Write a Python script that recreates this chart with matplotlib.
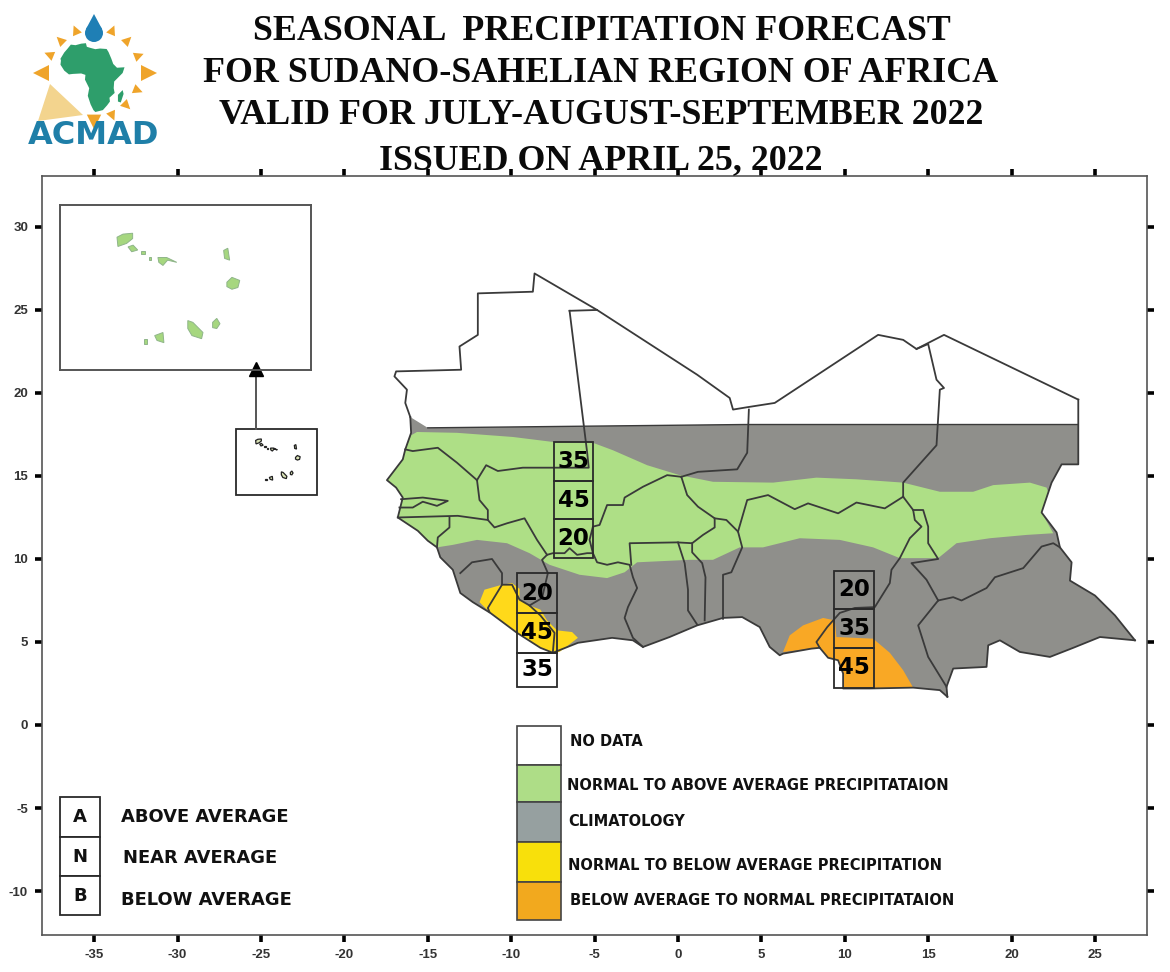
import numpy as np
import matplotlib
matplotlib.use("Agg")
import matplotlib.pyplot as plt
from matplotlib.patches import Rectangle, Polygon, Circle

# ---------- text ----------
TITLE_LINES = ["SEASONAL  PRECIPITATION FORECAST",
               "FOR SUDANO-SAHELIAN REGION OF AFRICA",
               "VALID FOR JULY-AUGUST-SEPTEMBER 2022",
               "ISSUED ON APRIL 25, 2022"]
LEGEND_LABELS = ["NO DATA", "NORMAL TO ABOVE AVERAGE PRECIPITATAION", "CLIMATOLOGY",
                 "NORMAL TO BELOW AVERAGE PRECIPITATION", "BELOW AVERAGE TO NORMAL PRECIPITATAION"]
LEGEND_COLORS = ["#FFFFFF", "#AEDD87", "#96A0A0", "#F8E00B", "#F2A91E"]
KEY_LETTERS = ["A", "N", "B"]
KEY_LABELS = ["ABOVE AVERAGE", "NEAR AVERAGE", "BELOW AVERAGE"]
X_TICKS = list(range(-35, 30, 5))
Y_TICKS = list(range(-10, 35, 5))

# ---------- forecast triplets: west lon, east lon, lat edges, probabilities ----------
TRIPLET_A_LON = (-7.43, -5.1); TRIPLET_A_LAT = (17.05, 14.7, 12.4, 10.05); TRIPLET_A_VALUES = ("35", "45", "20")
TRIPLET_B_LON = (-9.65, -7.25); TRIPLET_B_LAT = (9.15, 6.75, 4.35, 2.3); TRIPLET_B_VALUES = ("20", "45", "35")
TRIPLET_C_LON = (9.35, 11.75); TRIPLET_C_LAT = (9.3, 7.0, 4.65, 2.25); TRIPLET_C_VALUES = ("20", "35", "45")

# ---------- geography (lon, lat) ----------
COAST = [(-16.05, 18.55), (-16.0, 17.6), (-16.35, 16.6), (-16.5, 16.0), (-17.45, 14.75), (-16.9, 14.3), (-16.5, 13.7),
         (-16.8, 12.5), (-16.2, 12.1), (-15.6, 11.7), (-15.0, 11.1), (-14.45, 10.7), (-14.25, 10.1), (-13.5, 9.35),
         (-13.05, 7.95), (-12.3, 7.4), (-11.25, 6.75), (-9.65, 5.55), (-8.25, 4.65), (-7.5, 4.35), (-6.0, 4.95),
         (-3.95, 5.25), (-2.7, 5.1), (-2.1, 4.7), (-0.5, 5.3), (1.15, 6.0), (2.7, 6.45), (3.85, 6.5), (4.9, 5.9),
         (5.5, 4.7), (6.1, 4.2), (6.3, 4.3), (8.0, 4.6), (8.5, 4.65), (9.0, 4.05), (9.6, 3.9), (9.9, 3.1), (9.9, 2.2),
         (11.5, 2.2), (14.1, 2.25), (15.7, 2.1), (16.15, 1.7)]
CAR_SOUTH = [(16.1, 2.3), (16.5, 3.4), (18.5, 3.5), (18.6, 4.8), (19.3, 5.1), (20.5, 4.4), (22.3, 4.1), (23.7, 4.65),
             (25.3, 5.3), (27.4, 5.1)]
EAST_BORDER = [(27.4, 5.1), (26.2, 6.6), (25.0, 7.8), (23.5, 8.7), (23.6, 9.8), (22.9, 10.7), (22.7, 11.6), (21.8, 12.8),
               (22.2, 14.0), (22.4, 14.6), (23.0, 15.7), (24.0, 15.7), (24.0, 19.6)]
NORTH_BORDER = [(24.0, 19.6), (15.95, 23.5), (14.3, 22.65), (13.5, 23.2), (12.0, 23.5), (5.8, 19.4), (4.2, 19.15),
                (3.3, 19.0), (3.1, 19.7), (1.15, 21.1), (-4.85, 25.0), (-8.6, 27.2), (-8.7, 26.1), (-12.0, 26.0),
                (-12.0, 23.5), (-13.1, 22.8), (-13.0, 21.4), (-16.9, 21.3), (-17.0, 21.0), (-16.25, 20.2),
                (-16.35, 19.4), (-16.05, 18.55)]
GREY_TOP = [(24.0, 18.1), (4.0, 18.1), (-15.0, 17.9)]

GREEN_TOP = [(-16.0, 17.45), (-15.65, 17.65), (-13.25, 17.6), (-9.9, 17.35), (-7.5, 17.05), (-5.1, 17.0), (-3.9, 16.55),
             (-1.85, 15.65), (0.1, 15.05), (2.1, 14.65), (5.7, 14.6), (8.3, 14.9), (10.7, 14.8), (13.5, 14.6),
             (15.7, 14.05), (17.7, 14.05), (18.9, 14.45), (21.1, 14.6), (22.1, 14.3)]
GREEN_EAST = [(22.2, 14.0), (21.8, 12.8), (22.5, 11.55)]
GREEN_BOTTOM = [(20.9, 11.45), (18.7, 11.25), (16.7, 10.95), (15.6, 10.05), (13.3, 10.05), (11.7, 10.7), (9.7, 11.15),
                (7.3, 11.25), (5.1, 10.7), (3.7, 10.7), (2.1, 9.95), (0.7, 9.95), (-2.45, 9.8), (-3.2, 9.2),
                (-4.25, 8.85), (-5.9, 9.05), (-7.7, 9.65), (-8.9, 10.35), (-10.25, 10.95), (-12.05, 11.15),
                (-13.5, 10.85), (-14.45, 10.7)]
GREEN_WEST = [(-15.0, 11.1), (-15.6, 11.7), (-16.2, 12.1), (-16.8, 12.5), (-16.5, 13.7), (-16.9, 14.3), (-17.45, 14.75),
              (-16.5, 16.0), (-16.35, 16.6)]
YELLOW_AREA = [(-11.9, 7.4), (-11.6, 8.15), (-10.55, 8.45), (-9.95, 8.55), (-9.5, 8.2), (-9.5, 7.55), (-8.9, 7.2),
               (-8.25, 6.95), (-7.85, 6.3), (-7.25, 5.7), (-6.35, 5.6), (-6.0, 5.25), (-7.1, 4.4), (-7.5, 4.35),
               (-8.25, 4.65), (-9.65, 5.55), (-11.25, 6.75)]
ORANGE_AREA = [(6.3, 4.4), (6.7, 5.4), (7.5, 6.0), (8.7, 6.45), (9.4, 6.3), (9.5, 5.3), (11.7, 5.2), (12.7, 4.35),
               (13.5, 3.3), (14.1, 2.25), (9.9, 2.2), (9.9, 3.1), (9.6, 3.9), (9.0, 4.05), (8.5, 4.65), (8.0, 4.6)]

BORDERS = [
    [(-6.5, 24.95), (-4.85, 25.0)],
    [(-6.5, 24.95), (-5.45, 16.45), (-5.35, 15.5), (-9.3, 15.5), (-10.8, 15.3), (-11.5, 15.65), (-12.05, 14.75)],
    [(-12.05, 14.75), (-13.25, 15.8), (-14.4, 16.7), (-15.9, 16.5), (-16.35, 16.6)],
    [(-12.05, 14.75), (-11.9, 13.55), (-11.4, 12.95), (-11.4, 12.35), (-11.0, 11.9), (-10.25, 12.15), (-9.2, 12.45),
     (-8.45, 11.15), (-7.85, 10.25), (-7.5, 10.35), (-6.8, 10.35), (-6.5, 10.65), (-6.05, 10.25), (-5.45, 10.35), (-5.1, 10.35)],
    [(-11.4, 12.35), (-13.2, 12.6), (-16.8, 12.5)],
    [(-13.7, 12.5), (-13.7, 11.9), (-14.4, 11.3), (-14.45, 10.7)],
    [(-16.6, 13.6), (-15.3, 13.7), (-13.8, 13.5), (-14.45, 13.2), (-15.3, 13.45), (-15.9, 13.1), (-16.7, 13.1)],
    [(-5.1, 10.35), (-5.3, 11.15), (-5.1, 11.95), (-4.7, 12.05), (-4.25, 13.25), (-3.3, 13.25), (-3.2, 13.7), (-2.1, 14.35),
     (-0.65, 15.05), (0.2, 14.95)],
    [(0.2, 14.95), (1.2, 15.25), (3.55, 15.4), (4.15, 16.4), (4.25, 19.0)],
    [(0.2, 14.95), (0.55, 13.85), (1.2, 13.15), (2.2, 12.45), (2.2, 11.9), (1.5, 11.45), (0.85, 10.95), (-0.05, 11.0), (-2.9, 10.95),
     (-2.8, 9.65)],
    [(-5.1, 10.35), (-4.85, 9.8), (-4.25, 9.65), (-3.6, 9.8), (-2.9, 9.65), (-2.7, 8.9), (-2.45, 8.25), (-3.0, 7.1),
     (-3.2, 6.45), (-2.7, 5.25), (-2.1, 4.7)],
    [(0.0, 11.0), (0.4, 9.75), (0.6, 8.15), (0.6, 6.9), (1.15, 6.05)],
    [(0.85, 10.95), (0.85, 10.4), (1.45, 9.75), (1.65, 8.9), (1.6, 6.3)],
    [(2.2, 12.45), (2.9, 12.35), (3.6, 11.65), (3.85, 10.7), (3.2, 9.2), (2.7, 9.05), (2.7, 6.4)],
    [(3.6, 11.65), (4.15, 13.55), (5.4, 13.85), (7.0, 13.0), (7.8, 13.35), (9.6, 12.75), (10.7, 13.4), (12.4, 13.05), (13.5, 13.75)],
    [(13.5, 13.75), (13.5, 14.6), (15.5, 16.85), (15.7, 20.2), (15.95, 20.3), (15.5, 20.8), (15.0, 22.95), (14.3, 22.65)],
    [(13.5, 13.75), (14.1, 12.95), (14.2, 12.35), (14.6, 11.95), (13.9, 11.25), (13.3, 10.05), (12.8, 9.35), (12.7, 8.55),
     (11.8, 7.1), (10.6, 7.05), (9.7, 6.75), (8.95, 5.9), (8.3, 5.0), (8.5, 4.65)],
    [(14.1, 12.95), (14.7, 12.95), (15.0, 11.95), (15.0, 10.95), (15.6, 10.0), (14.0, 9.75), (14.9, 8.75), (15.6, 7.5)],
    [(15.6, 7.5), (16.5, 7.7), (17.0, 7.5), (18.5, 8.25), (19.0, 8.9), (20.7, 9.45), (21.8, 10.75), (22.5, 10.95), (22.9, 10.7)],
    [(15.6, 7.5), (14.4, 6.0), (15.0, 4.1), (16.1, 2.3), (16.15, 1.7)],
    [(-13.05, 9.15), (-12.35, 9.8), (-11.15, 10.0), (-10.55, 9.15), (-10.55, 8.45), (-11.4, 7.05), (-11.3, 6.8)],
    [(-10.55, 8.45), (-9.95, 8.45), (-9.5, 7.55), (-8.9, 7.2), (-8.25, 6.6), (-7.4, 5.55), (-7.5, 4.4)],
    [(-7.85, 10.25), (-8.15, 9.95), (-7.8, 9.15), (-8.15, 7.65), (-8.9, 7.2)],
]

ISLANDS = [
    [(-25.32, 17.14), (-25.19, 17.21), (-24.98, 17.23), (-24.98, 17.11), (-25.11, 17.0), (-25.3, 16.93)],
    [(-25.08, 16.92), (-24.97, 16.96), (-24.87, 16.85), (-25.0, 16.81)],
    [(-24.8, 16.82), (-24.72, 16.82), (-24.72, 16.76), (-24.8, 16.76)],
    [(-24.63, 16.69), (-24.57, 16.69), (-24.57, 16.63), (-24.63, 16.63)],
    [(-24.43, 16.68), (-24.24, 16.68), (-24.02, 16.57), (-24.22, 16.62), (-24.32, 16.5), (-24.41, 16.57)],
    [(-23.0, 16.84), (-22.91, 16.89), (-22.87, 16.62), (-22.98, 16.66)],
    [(-22.93, 16.12), (-22.82, 16.23), (-22.65, 16.16), (-22.69, 16.0), (-22.82, 15.96), (-22.93, 16.02)],
    [(-23.24, 15.21), (-23.15, 15.3), (-23.08, 15.18), (-23.15, 15.07), (-23.24, 15.09)],
    [(-23.78, 15.25), (-23.67, 15.21), (-23.45, 14.98), (-23.48, 14.84), (-23.69, 14.91), (-23.78, 15.07)],
    [(-24.5, 14.91), (-24.32, 14.98), (-24.3, 14.75), (-24.45, 14.8)],
    [(-24.74, 14.84), (-24.67, 14.84), (-24.67, 14.73), (-24.74, 14.73)],
]
AFRICA = [(-17, 14.7), (-16.5, 19), (-17, 21), (-13, 27.5), (-9.5, 31.5), (-6, 35.8), (-1, 35.2), (5, 36.8), (10, 37.3),
          (11, 33.5), (15, 32.3), (20, 31), (25, 31.7), (32, 31.2), (34, 28), (37, 21), (39, 15.5), (43, 11.5), (51, 12),
          (49, 6), (44, 1), (40, -3), (39.5, -10), (40.5, -15), (35, -20), (35.5, -24), (32.5, -28), (28, -33), (20, -35),
          (18, -33), (15, -27), (12, -18), (13.5, -10), (9, -1), (9.5, 4), (5, 5.5), (-4, 5), (-8, 4.5), (-13, 8.5)]
MADAGASCAR = [(49, -12), (50, -16), (47, -25), (44, -24), (44, -17)]

# ---------- figure ----------
W, H = 1170, 972
plt.rcParams['font.family'] = ['Liberation Sans', 'DejaVu Sans']
plt.rcParams['axes.unicode_minus'] = False
fig = plt.figure(figsize=(W / 100, H / 100), dpi=100, facecolor="white")


def box(l, t, r, b):
    return [l / W, 1 - b / H, (r - l) / W, (b - t) / H]


ax = fig.add_axes(box(42, 176, 1147, 935))
ax.set_xlim(-38.13, 28.12)
ax.set_ylim(-12.65, 33.07)
for s in ax.spines.values():
    s.set_color("#555555"); s.set_linewidth(1.2)
ax.set_xticks(X_TICKS); ax.set_yticks(Y_TICKS)
ax.tick_params(axis="both", which="major", direction="out", length=5, width=2.6, color="black",
               top=True, right=True, labelsize=9.5, labelcolor="#333333", pad=5)
for lab in ax.get_xticklabels() + ax.get_yticklabels():
    lab.set_fontweight("bold")

LINE = "#3A3A3A"
GREY = "#8F8F8B"; GREEN = "#AEDF86"; YELLOW = "#FFD91A"; ORANGE = "#F9A825"


def fill(points, color, z):
    a = np.array(points)
    ax.fill(a[:, 0], a[:, 1], color=color, lw=0, zorder=z)


def line(points, lw=1.3, z=5, color=LINE):
    a = np.array(points)
    ax.plot(a[:, 0], a[:, 1], color=color, lw=lw, zorder=z, solid_joinstyle="round")


fill(COAST + CAR_SOUTH + EAST_BORDER[1:-1] + GREY_TOP, GREY, 1)
fill(GREEN_TOP + GREEN_EAST + GREEN_BOTTOM + GREEN_WEST, GREEN, 2)
fill(YELLOW_AREA, YELLOW, 3)
fill(ORANGE_AREA, ORANGE, 3)

line(COAST); line(CAR_SOUTH); line(EAST_BORDER); line(NORTH_BORDER); line(GREY_TOP, lw=1.0)
for b in BORDERS:
    line(b)

for lons, lats, vals in [(TRIPLET_A_LON, TRIPLET_A_LAT, TRIPLET_A_VALUES),
                         (TRIPLET_B_LON, TRIPLET_B_LAT, TRIPLET_B_VALUES),
                         (TRIPLET_C_LON, TRIPLET_C_LAT, TRIPLET_C_VALUES)]:
    for i, v in enumerate(vals):
        ax.add_patch(Rectangle((lons[0], lats[i + 1]), lons[1] - lons[0], lats[i] - lats[i + 1],
                               fc="none", ec="#2A2A2A", lw=1.3, zorder=6))
        ax.text(sum(lons) / 2, (lats[i] + lats[i + 1]) / 2, v, ha="center", va="center", fontsize=16.5,
                fontweight="bold", family="DejaVu Sans", color="#000000", zorder=7)

# small Cape Verde locator, on the map's own scale
ax.add_patch(Rectangle((-26.5, 13.88), 4.85, 3.97, fc="white", ec="#2A2A2A", lw=1.3, zorder=4))
for isl in ISLANDS:
    a = np.array(isl)
    ax.fill(a[:, 0], a[:, 1], fc="#D9E2B5", ec="#222222", lw=0.9, zorder=5)
ax.plot([-25.3, -25.3], [17.85, 21.3], color="#555555", lw=1.4, zorder=8)
ax.plot([-25.3], [21.45], marker="^", ms=10, color="black", zorder=9, clip_on=False)

# enlarged Cape Verde inset
ins = fig.add_axes(box(60, 205, 311, 370), zorder=3)
ins.set_xlim(-26.56, -21.1); ins.set_ylim(14.13, 17.87)
ins.set_xticks([]); ins.set_yticks([])
ins.patch.set_alpha(0)
for s in ins.spines.values():
    s.set_color("#555555"); s.set_linewidth(1.4)
for isl in ISLANDS:
    a = np.array(isl)
    ins.fill(a[:, 0], a[:, 1], fc="#A6D77F", ec="#8FB58A", lw=0.7)

# legend
LEG_EDGES = [726, 765, 802, 842, 882, 920]
LEG_TEXT_X = [570, 567, 568, 568, 570]
LEG_TEXT_Y = [741, 785, 821, 865, 900]
for i, (lab, col) in enumerate(zip(LEGEND_LABELS, LEGEND_COLORS)):
    t, b = LEG_EDGES[i], LEG_EDGES[i + 1]
    fig.add_artist(Rectangle((517 / W, 1 - b / H), 44 / W, (b - t) / H, transform=fig.transFigure,
                             fc=col, ec="#444444", lw=1.2, zorder=4))
    fig.text(LEG_TEXT_X[i] / W, 1 - LEG_TEXT_Y[i] / H, lab, family="DejaVu Sans", fontweight="bold",
             fontsize=10.5, color="#111111", va="center", ha="left", zorder=5)

# A/N/B key
KEY_EDGES = [797, 837, 876, 915]
KEY_TEXT_X = [121, 123, 121]
KEY_TEXT_Y = [817, 858, 900]
for i in range(3):
    t, b = KEY_EDGES[i], KEY_EDGES[i + 1]
    fig.add_artist(Rectangle((60 / W, 1 - b / H), 40 / W, (b - t) / H, transform=fig.transFigure,
                             fc="white", ec="#2A2A2A", lw=1.3, zorder=4))
    fig.text(80 / W, 1 - (t + b) / 2 / H, KEY_LETTERS[i], family="DejaVu Sans", fontweight="bold", fontsize=13,
             ha="center", va="center", color="#111111", zorder=5)
    fig.text(KEY_TEXT_X[i] / W, 1 - KEY_TEXT_Y[i] / H, KEY_LABELS[i], family="DejaVu Sans", fontweight="bold",
             fontsize=12.9, ha="left", va="center", color="#111111", zorder=5)

# title
TITLE_Y = [31, 73, 116, 161]
TITLE_X = [602, 601, 601, 601]
for s, x, y in zip(TITLE_LINES, TITLE_X, TITLE_Y):
    fig.text(x / W, 1 - y / H, s, family="Liberation Serif", fontweight="bold", fontsize=25.8, ha="center",
             va="center", color="#0A0A0A", zorder=6)

# logo
logo = fig.add_axes(box(0, 0, 170, 150), zorder=2)
logo.set_xlim(0, 170); logo.set_ylim(150, 0); logo.axis("off")
RAY_X = [76, 112, 61, 127, 50, 138, 43, 147, 137, 126, 112, 94]
RAY_Y = [31, 31, 41, 41, 55, 56, 73, 73, 90, 105, 115, 120]
RAY_SIZE = [6, 6, 6, 6, 6, 6, 10, 10, 6, 6, 6, 9]
CX, CY = 94, 73
for x, y, r in zip(RAY_X, RAY_Y, RAY_SIZE):
    ang = np.arctan2(y - CY, x - CX)
    tip = (x + r * np.cos(ang), y + r * np.sin(ang))
    p1 = (x - 0.6 * r * np.cos(ang) - 0.8 * r * np.sin(ang), y - 0.6 * r * np.sin(ang) + 0.8 * r * np.cos(ang))
    p2 = (x - 0.6 * r * np.cos(ang) + 0.8 * r * np.sin(ang), y - 0.6 * r * np.sin(ang) - 0.8 * r * np.cos(ang))
    logo.add_patch(Polygon([tip, p1, p2], fc="#EFA42A", ec="none"))
logo.add_patch(Circle((94, 33), 9, fc="#1F7FB5", ec="none"))
logo.add_patch(Polygon([(94, 14), (86, 29), (102, 29)], fc="#1F7FB5", ec="none"))
logo.add_patch(Polygon([(50, 84), (38, 121), (83, 115)], fc="#F3D48E", ec="none"))
logo.text(94, 135.5, "ACMAD", family="DejaVu Sans", fontweight="bold", fontsize=23, color="#1F7FA8",
          ha="center", va="center")
afr = fig.add_axes(box(60, 43, 125, 112), zorder=3)
afr.set_xlim(-17.5, 51.5); afr.set_ylim(-35, 37.5); afr.axis("off")
a = np.array(AFRICA); afr.fill(a[:, 0], a[:, 1], color="#2E9E6B", lw=0)
a = np.array(MADAGASCAR); afr.fill(a[:, 0], a[:, 1], color="#2E9E6B", lw=0)

fig.savefig("out.png", dpi=100, facecolor="white")
